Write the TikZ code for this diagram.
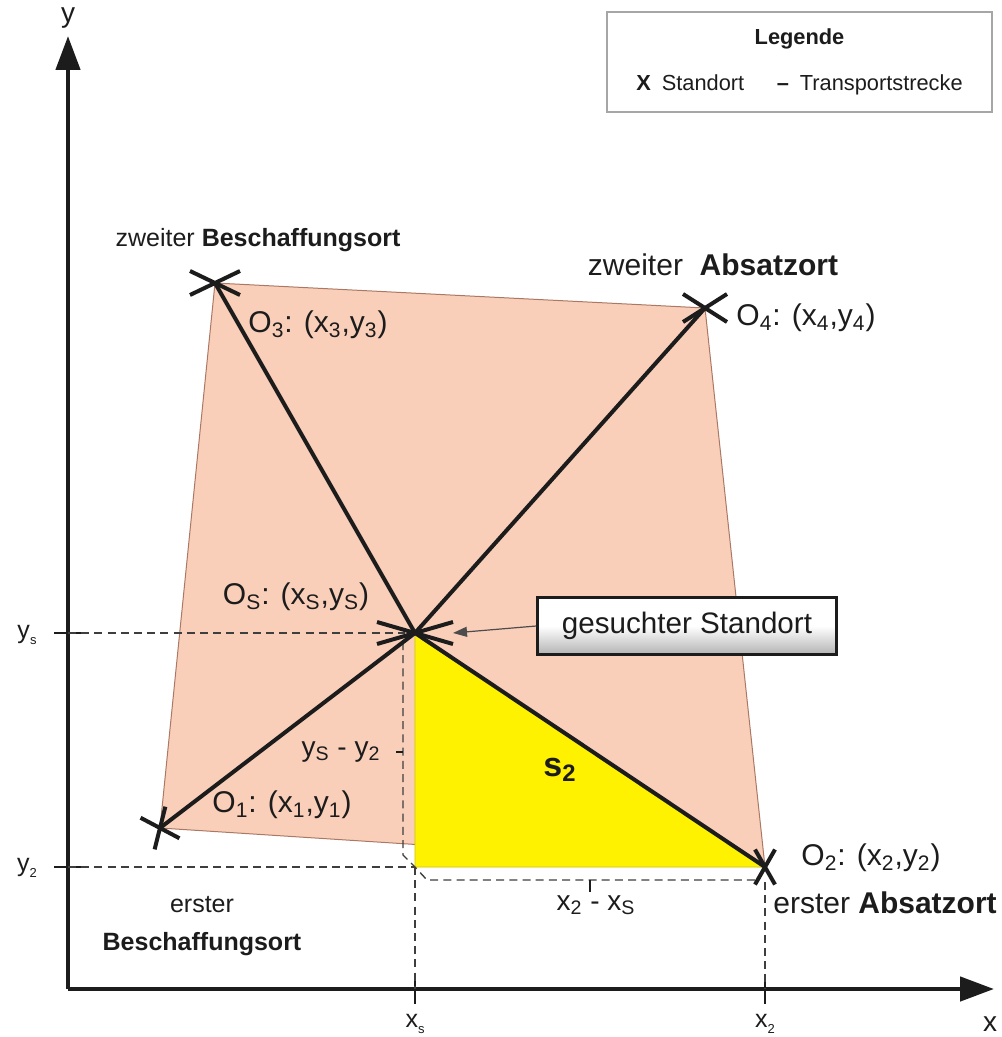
\documentclass[tikz,border=0pt]{standalone}
\usepackage{fontspec}
\setmainfont{Liberation Sans}
\usetikzlibrary{shapes.misc,arrows.meta}

\definecolor{lachs}{RGB}{250,207,186}
\definecolor{lachsrand}{RGB}{170,120,100}
\definecolor{gelb}{RGB}{255,242,0}
\definecolor{tinte}{RGB}{28,28,28}

\newcommand{\ix}[1]{\textsubscript{#1}}
\newcommand{\kx}[1]{\raisebox{-0.45ex}{\fontsize{6.5}{7}\selectfont #1}}

\tikzstyle{standort} = [cross out, draw=tinte, line width=2pt, inner sep=0pt, outer sep=0pt]
\tikzstyle{strecke} = [draw=tinte, line width=2pt]
\tikzstyle{achse} = [draw=tinte, line width=2.3pt, -{Triangle[length=17pt,width=12pt]}]
\tikzstyle{marke} = [draw=tinte, line width=1.2pt]
\tikzstyle{hilf} = [draw=tinte!85, line width=0.7pt, dash pattern=on 4pt off 2.6pt]
\tikzstyle{beschrift} = [text=tinte, font=\fontsize{12.5}{15}\selectfont, inner sep=1pt]
\tikzstyle{koord} = [text=tinte, font=\fontsize{15}{18}\selectfont, inner sep=1pt]
\tikzstyle{zeiger} = [draw=gray!60!black, line width=0.6pt, -{Triangle[length=7pt,width=5pt]}]
\tikzstyle{knopf} = [draw=tinte, line width=1.3pt, top color=white, bottom color=gray!60, middle color=white,
minimum width=149.5pt, minimum height=28.5pt, inner sep=0pt, text=tinte, font=\fontsize{14.8}{17}\selectfont]

\begin{document}
\begin{tikzpicture}[x=0.5pt,y=-0.5pt]
\useasboundingbox (0,0) rectangle (1001,1037);

% Positions of the locations
\coordinate (P1) at (160,828);
\coordinate (P2) at (765,867);
\coordinate (P3) at (215,283);
\coordinate (P4) at (705,308);
\coordinate (PS) at (415,633);
\coordinate (PE) at (415,867);

% Areas
\filldraw[fill=lachs, draw=lachsrand, line width=0.5pt] (P1) -- (P3) -- (P4) -- (P2) -- cycle;
\filldraw[fill=gelb, draw=gelb!80!black, line width=0.4pt] (PS) -- (PE) -- (P2) -- cycle;

% Axes
\draw[achse] (68,989) -- (68,36);
\draw[achse] (68,989) -- (994,989);
\node[beschrift, font=\fontsize{14}{16}\selectfont] (yachse) at (68,18) {y};
\node[beschrift, font=\fontsize{14}{16}\selectfont] (xachse) at (990,1024) {x};

% Ticks and help lines
\draw[marke] (54,633) -- (81,633);
\draw[marke] (54,867) -- (81,867);
\draw[marke] (415,974) -- (415,1004);
\draw[marke] (765,974) -- (765,1004);
\node[beschrift] (ys) at (27,635) {y\kx{s}};
\node[beschrift] (y2) at (27,868) {y\kx{2}};
\node[beschrift] (xs) at (415,1024) {x\kx{s}};
\node[beschrift] (x2) at (765,1024) {x\kx{2}};
\draw[hilf] (68,633) -- (405,633);
\draw[hilf] (68,867) -- (PE);
\draw[hilf] (PE) -- (415,989);
\draw[hilf] (765,882) -- (765,989);

% Distances
\draw[hilf] (403,642) -- (403,855) -- (PE) -- (427,880) -- (758,880);
\draw[marke, line width=0.6pt] (396,752) -- (403,752);
\draw[marke, line width=0.6pt] (590,880) -- (590,892);
\node[koord, font=\fontsize{14}{17}\selectfont] (dy) at (341,752) {y\ix{S} - y\ix{2}};
\node[koord, font=\fontsize{14}{17}\selectfont] (dx) at (596,905) {x\ix{2} - x\ix{S}};

% Transport routes
\path[strecke] (P3) -- (PS);
\path[strecke] (P4) -- (PS);
\path[strecke] (P1) -- (PS);
\path[strecke] (PS) -- (P2);

% Locations
\node[standort, minimum width=25pt, minimum height=12pt] (O3) at (P3) {};
\node[standort, minimum width=22pt, minimum height=14pt] (O4) at (P4) {};
\node[standort, minimum width=38pt, minimum height=11pt] (OS) at (PS) {};
\node[standort, minimum width=13.6pt, minimum height=17.3pt, rotate=24] (O1) at (P1) {};
\node[standort, minimum width=10pt, minimum height=17.5pt] (O2) at (P2) {};

% Labels of the locations
\node[beschrift] (name3) at (258,240) {zweiter \textbf{Beschaffungsort}};
\node[koord] (lbl3) at (318,325) {O\ix{3}: (x\ix{3},y\ix{3})};
\node[koord] (name4) at (713,265) {zweiter\ \ \textbf{Absatzort}};
\node[koord] (lbl4) at (806,318) {O\ix{4}: (x\ix{4},y\ix{4})};
\node[koord] (lblS) at (296,597) {O\ix{S}: (x\ix{S},y\ix{S})};
\node[koord] (lbl1) at (282,805) {O\ix{1}: (x\ix{1},y\ix{1})};
\node[koord] (lbl2) at (871,858) {O\ix{2}: (x\ix{2},y\ix{2})};
\node[koord] (name2) at (885,903) {erster \textbf{Absatzort}};
\node[beschrift, align=center, font=\fontsize{12.5}{19}\selectfont] (name1) at (202,926) {erster\\\textbf{Beschaffungsort}};
\node[beschrift, font=\bfseries\fontsize{17}{19}\selectfont] (s2) at (560,770) {s\ix{2}};

% Searched location
\node[knopf] (suche) at (687,626) {gesuchter Standort};
\path[zeiger] (suche.west) -- (OS.east);

% Legend
\node[draw=gray!70, line width=0.8pt, minimum width=192.5pt, minimum height=50pt, inner sep=0pt,
text=tinte, font=\fontsize{10.9}{23}\selectfont, align=center] (legende) at (799.5,62) {%
\textbf{Legende}\\
\textbf{X}\enspace Standort\hspace{1.5em}\textbf{--}\enspace Transportstrecke};
\end{tikzpicture}
\end{document}
